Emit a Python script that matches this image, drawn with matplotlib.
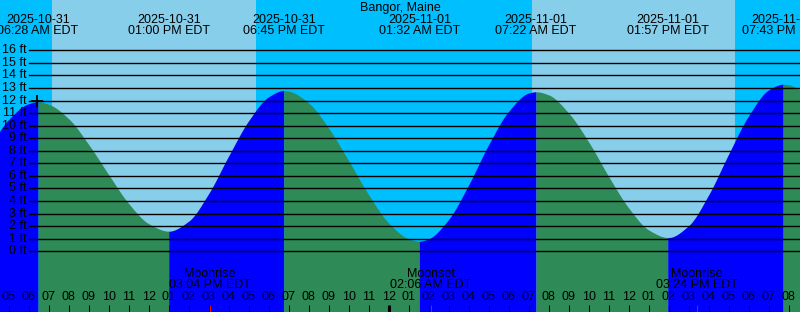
#!/bin/python3

# library imports
from typing import List
import numpy as np
import matplotlib
matplotlib.use('Agg')
import matplotlib.pyplot as plt

plt.rcParams['font.family'] = ['Liberation Sans', 'DejaVu Sans']

# station title
station: str = 'Bangor, Maine'

# hours counted from 2025-10-31 00:00 EDT
# tide extremes (time, height in ft, labels)
event_hours: List[float] = [6.467, 13.0, 18.75, 25.533, 31.367, 37.95, 43.717]
event_heights: List[float] = [11.9, 1.6, 12.8, 0.8, 12.7, 1.1, 13.3]
event_dates: List[str] = ['2025-10-31', '2025-10-31', '2025-10-31', '2025-11-01',
                          '2025-11-01', '2025-11-01', '2025-11-01']
event_times: List[str] = ['06:28 AM EDT', '01:00 PM EDT', '06:45 PM EDT', '01:32 AM EDT',
                          '07:22 AM EDT', '01:57 PM EDT', '07:43 PM EDT']

sample_hours: List[int] = list(range(4, 46))
sample_heights: List[float] = [
    8.2, 10.5, 11.75,                              # 04-06
    11.7, 10.55, 8.5, 6.1, 3.8, 2.2, 1.6,          # 07-13
    2.4, 4.6, 7.6, 10.4, 12.3,                     # 14-18
    12.75, 11.8, 9.8, 7.2, 4.5, 2.25, 1.0,         # 19-25
    1.0, 2.55, 5.3, 8.5, 11.15, 12.6,              # 26-31
    12.45, 11.0, 8.7, 5.95, 3.45, 1.7,             # 32-37
    1.1, 2.05, 4.5, 7.75, 10.8, 12.85,             # 38-43
    13.25, 12.4,                                   # 44-45
]

# sunrise / sunset (hours)
sunrise_hours: List[float] = [7.15, 31.18]
sunset_hours: List[float] = [17.37, 41.3]

# moon events
moon_hours: List[float] = [15.067, 26.1, 39.4]
moon_names: List[str] = ['Moonrise', 'Moonset', 'Moonrise']
moon_times: List[str] = ['03:04 PM EDT', '02:06 AM EDT', '03:24 PM EDT']

# hour ticks
tick_hours: List[int] = list(range(5, 45))
tick_labels: List[str] = ['%02d' % ((h - 1) % 12 + 1) for h in tick_hours]

# level lines
levels: List[int] = list(range(0, 17))

# mark on the first high water
mark_hour: float = 6.43
mark_level: float = 12.0

# colours
night_color: str = '#00BFFF'
day_color: str = '#87CEEB'
rise_color: str = '#0000FF'
fall_color: str = '#2E8B57'

# geometry (pixels -> data)
W, H = 800, 312
px_per_hour: float = 20.0
x0: float = 8.7                     # pixel of 05:00
y_zero: float = 251.3               # pixel of 0 ft
px_per_ft: float = 12.5625

t_min: float = 5 + (0 - x0) / px_per_hour
t_max: float = 5 + (W - x0) / px_per_hour
ft_top: float = y_zero / px_per_ft
ft_bot: float = (y_zero - H) / px_per_ft


def py(y_px: float) -> float:
    return 1 - y_px / H  # pixel row -> axes fraction


def smooth(t: np.ndarray, y: np.ndarray, tt: np.ndarray) -> np.ndarray:
    # monotone cubic (Fritsch-Carlson) through the read points, for drawing only
    hk = np.diff(t)
    dk = np.diff(y) / hk
    m = np.zeros_like(y)
    m[0], m[-1] = dk[0], dk[-1]
    for k in range(1, len(y) - 1):
        if dk[k - 1] * dk[k] > 0:
            w1 = 2 * hk[k] + hk[k - 1]
            w2 = hk[k] + 2 * hk[k - 1]
            m[k] = (w1 + w2) / (w1 / dk[k - 1] + w2 / dk[k])
    i = np.clip(np.searchsorted(t, tt) - 1, 0, len(t) - 2)
    s = (tt - t[i]) / hk[i]
    h00 = 2 * s**3 - 3 * s**2 + 1
    h10 = s**3 - 2 * s**2 + s
    h01 = -2 * s**3 + 3 * s**2
    h11 = s**3 - s**2
    return h00 * y[i] + h10 * hk[i] * m[i] + h01 * y[i + 1] + h11 * hk[i] * m[i + 1]


def main() -> None:
    fig = plt.figure(figsize=(W / 100, H / 100), dpi=100)
    ax = fig.add_axes([0, 0, 1, 1])
    ax.set_xlim(t_min, t_max)
    ax.set_ylim(ft_bot, ft_top)
    ax.axis('off')
    xt = ax.get_xaxis_transform()

    # sky: night everywhere, day between sunrise and sunset
    ax.axvspan(t_min, t_max, color=night_color, lw=0, zorder=0)
    for r, s in zip(sunrise_hours, sunset_hours):
        ax.axvspan(r, s, color=day_color, lw=0, zorder=0)

    # merge hourly samples with the extremes
    t = np.array(sample_hours + event_hours, dtype=float)
    h = np.array(sample_heights + event_heights, dtype=float)
    t, idx = np.unique(t, return_index=True)
    h = h[idx]

    tt = np.union1d(np.linspace(t[0], t[-1], 2000), event_hours)
    hh = smooth(t, h, tt)

    # water: blue when rising, green when falling
    bounds = [t_min - 1] + event_hours + [t_max + 1]
    first_rising = event_heights[0] > event_heights[1]
    for i in range(len(bounds) - 1):
        a, b = bounds[i], bounds[i + 1]
        rising = (i % 2 == 0) == first_rising
        m = (tt >= a) & (tt <= b)
        ax.fill_between(tt[m], ft_bot - 1, hh[m], color=rise_color if rising else fall_color,
                        lw=0, zorder=1)

    # level lines and labels
    x_line = 29.3 / W
    for lv in levels:
        ax.axhline(lv, xmin=x_line, xmax=1, color='black', lw=1.0, zorder=2)
        ax.text(26.5 / W, lv, '%d ft' % lv, transform=ax.get_yaxis_transform(),
                ha='right', va='center', fontsize=9, zorder=3)

    # mark
    ax.plot([mark_hour], [mark_level], marker='+', color='black', ms=8, mew=1.3, zorder=3)

    # title and tide event labels
    ax.text(0.5, py(8), station, transform=ax.transAxes, ha='center', va='center', fontsize=9)
    for eh, d, tm in zip(event_hours, event_dates, event_times):
        ax.text(eh, py(20), d, transform=xt, ha='center', va='center', fontsize=9, zorder=3)
        ax.text(eh, py(31.5), tm, transform=xt, ha='center', va='center', fontsize=9, zorder=3)

    # moon events
    for mh, nm, tm in zip(moon_hours, moon_names, moon_times):
        ax.text(mh, py(274), nm, transform=xt, ha='center', va='center', fontsize=9, zorder=3)
        ax.text(mh, py(285.5), tm, transform=xt, ha='center', va='center', fontsize=9, zorder=3)

    # hour ticks and labels
    for th, lab in zip(tick_hours, tick_labels):
        ax.text(th, py(297), lab, transform=xt, ha='center', va='center', fontsize=9, zorder=3)
        lw = 2.2 if th % 24 == 0 else 0.75
        ax.vlines(th, py(312), py(305), transform=xt, color='black', lw=lw, zorder=3)
    ax.vlines(moon_hours, py(312), py(305), transform=xt, color='red', lw=0.75, zorder=3)

    fig.savefig('out.png', dpi=100)


if __name__ == "__main__":
    main()
